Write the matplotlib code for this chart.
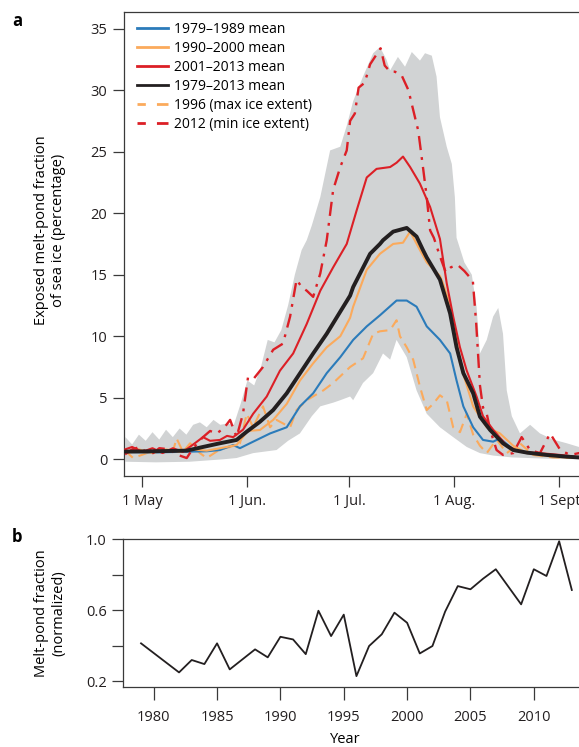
import numpy as np
import matplotlib
matplotlib.use('Agg')
import matplotlib.pyplot as plt

plt.rcParams['font.family'] = ['Open Sans', 'DejaVu Sans']

# panel a: day of year -> exposed melt-pond fraction (%)
band_up_day = [116, 118, 120, 122, 124, 126, 128, 130, 132, 134, 136, 138, 140, 142, 144, 146, 148,
               150, 152, 154, 156, 158, 160, 162, 164, 166, 168, 169.5, 171, 173.5, 176.4, 179.4,
               181.3, 183.2, 186.1, 189.1, 191.1, 193, 194.1, 196.4, 198.5, 200.5, 202.9, 204.4,
               206.4, 207.8, 208.8, 210.8, 212.3, 213.2, 213.7, 216, 218.2, 219.6, 220.6, 222.6,
               224.5, 226.0, 227.4, 228.5, 230.0, 232.4, 235.4, 238.3, 242.2, 246.2, 249.8, 256]
band_up_val = [1.8, 1.2, 2.0, 1.5, 2.2, 1.6, 2.4, 1.8, 2.5, 2.0, 2.8, 3.0, 2.6, 3.2, 2.8, 2.9, 2.8,
               4.5, 6.4, 6.0, 7.5, 9.7, 9.5, 10.5, 12.5, 15.0, 17.0, 17.8, 19.0, 21.3, 25.1, 25.4,
               27.1, 29.1, 31.1, 33.0, 33.5, 32.5, 31.6, 32.7, 31.9, 33.1, 32.4, 33.0,
               32.8, 31.1, 27.8, 25.4, 24.0, 21.3, 18.0, 16.0, 15.0, 12.4, 8.6, 9.7,
               11.6, 12.3, 10.2, 5.6, 3.5, 2.1, 2.8, 2.1, 1.6, 1.3, 1.0, 0.9]
band_lo_day = [116, 125, 135, 140, 145, 148.8, 153.7, 160.6, 164, 167.5, 171, 173.5, 177.3, 179.4,
               182.3, 183.2, 186.1, 189.1, 192.0, 194.1, 196.0, 199.0, 201.9, 204.9, 208.8, 212.7,
               216.7, 220.6, 224.5, 230, 240, 249.8, 256]
band_lo_val = [-0.2, -0.25, -0.2, -0.1, 0.0, 0.1, 0.5, 0.75, 1.5, 2.1, 3.5, 4.3, 4.6, 4.8,
               5.1, 4.8, 6.2, 7.0, 8.6, 8.1, 9.7, 8.3, 5.6, 3.7, 2.6, 1.8,
               1.0, 0.5, 0.3, 0.15, 0.05, 0.0, 0.0]

mean_all_day = [115.9, 124.2, 134.1, 138.9, 143.9, 148.8, 151.8, 155.7, 159.6, 163.6, 167.5, 171.4,
                175.4, 179.4, 182.3, 183.2, 188.2, 191.1, 192.0, 195.0, 199.0, 201.9, 203.8, 204.9,
                208.8, 211.8, 213.7, 215.7, 218.6, 220.6, 223.6, 227.4, 230.4, 234.5, 240.3, 246.2,
                249.8, 256]
mean_all_val = [0.62, 0.65, 0.7, 1.0, 1.3, 1.57, 2.24, 3.05, 4.0, 5.36, 6.98, 8.6,
                10.2, 12.0, 13.3, 14.0, 16.7, 17.5, 17.8, 18.5, 18.8, 18.1, 17.0, 16.4,
                14.6, 11.85, 9.1, 7.0, 5.36, 3.46, 2.38, 1.3, 0.75, 0.54, 0.35, 0.21,
                0.15, 0.12]

mean_7989_day = [115.9, 124, 132, 140, 143.9, 147.8, 149.8, 153.7, 158.7, 163.6, 167.5, 171.4, 175.4,
                 179.4, 183.2, 187.2, 191.1, 196.0, 199.0, 201.9, 204.9, 208.8, 211.8, 213.7, 215.7,
                 218.6, 221.5, 224.5, 226.5, 230.4, 234.5, 242, 249.8, 256]
mean_7989_val = [0.6, 0.55, 0.6, 0.65, 0.75, 1.16, 0.9, 1.43, 2.1, 2.6, 4.3, 5.36, 7.0,
                 8.3, 9.7, 10.8, 11.7, 12.9, 12.9, 12.4, 10.8, 9.7, 8.6, 6.4, 4.3,
                 2.6, 1.57, 1.43, 1.7, 0.8, 0.5, 0.25, 0.15, 0.12]

mean_9000_day = [115.9, 120, 124, 128, 132, 136, 140, 144, 148.8, 150.7, 152, 155.7, 159.6, 163.6,
                 167.5, 171.4, 175.4, 179.4, 182.3, 183.2, 187.2, 191.1, 195.0, 197.9, 200.0, 202.9,
                 204.9, 208.8, 209.7, 211.8, 213.7, 214.7, 218.6, 222.6, 226.5, 230.4, 234.5, 242.2,
                 249.8, 256]
mean_9000_val = [0.6, 0.8, 0.5, 0.8, 0.6, 0.8, 0.7, 0.9, 1.16, 1.8, 2.3, 2.38, 3.2, 4.5,
                 6.4, 7.8, 9.1, 10.0, 11.5, 12.4, 15.4, 16.7, 17.5, 17.6, 18.5, 17.0,
                 16.0, 14.9, 14.3, 12.5, 9.8, 7.8, 4.3, 2.6, 2.1, 1.1, 0.5, 0.2,
                 0.1, 0.1]

mean_0113_day = [115.9, 118, 121, 124, 127, 130, 133, 136, 138.9, 141, 143.9, 146, 147.8, 150.7,
                 153.7, 157.7, 161.6, 165.5, 169.5, 173.5, 177.3, 181.3, 184.2, 187.2, 190.1, 194.1,
                 196.0, 197.9, 200.0, 202.9, 205.9, 208.8, 210.8, 212.7, 214.7, 216.7, 219.6, 221.5,
                 224.5, 228.5, 232.4, 238.3, 246.2, 249.8, 256]
mean_0113_val = [0.8, 1.0, 0.6, 0.9, 0.5, 0.9, 0.6, 1.2, 1.8, 1.5, 1.57, 1.9, 1.8, 2.4,
                 3.7, 5.1, 7.2, 8.6, 11.0, 13.7, 15.6, 17.5, 20.2, 22.9, 23.6, 23.75,
                 24.1, 24.6, 23.75, 22.4, 20.5, 17.9, 14.3, 11.6, 9.1, 7.2, 5.1, 3.5,
                 2.4, 1.1, 0.6, 0.5, 0.3, 0.15, 0.12]

y1996_day = [115.9, 118.3, 122.3, 126, 130.1, 131.1, 133.0, 135.1, 138, 140.0, 143.9, 146.9, 149.8,
             151.8, 153.7, 156.6, 158.7, 160.6, 164.6, 166.5, 169.5, 174.4, 177.3, 182.3, 186.1,
             189.1, 191.1, 194.1, 196.0, 197, 199.0, 200.9, 202.9, 204.9, 206.8, 208.8, 210.8,
             212.7, 214.7, 216.7, 218.6, 220.6, 222.6, 225.5, 228.5, 232.4, 236.3, 242.2, 249.8, 256]
y1996_val = [0.7, 0.1, 0.5, 0.8, 0.7, 1.7, 0.6, 1.3, 0.5, 0.1, 0.8, 1.0, 1.3,
             3.7, 2.6, 4.3, 2.6, 3.2, 2.6, 4.0, 4.8, 5.6, 6.2, 7.5, 8.2,
             10.2, 10.4, 10.5, 11.3, 10.0, 9.1, 8.1, 5.9, 4.0, 4.5, 5.2, 4.8,
             2.6, 2.2, 3.7, 2.0, 1.1, 0.5, 1.6, 0.5, 1.3, 0.35, 0.15, 0.1, 0.1]

y2012_day = [115.9, 118, 120.3, 122, 124.2, 126, 129.2, 131, 134.1, 136, 138.9, 141, 142.9, 145,
             146.9, 148.8, 150.7, 152.2, 154, 156.6, 159.6, 162.5, 164.6, 166.5, 168, 169.5, 171.4,
             173.5, 175.4, 177.3, 179.4, 181.3, 182.3, 183.7, 184.8, 186.6, 188.2, 190.1, 191.3,
             192.5, 194.1, 195.5, 197.5, 199.5, 200.9, 202.4, 203.9, 204.9, 205.9, 207, 208.8,
             210.5, 212, 214, 216, 218.5, 219.5, 220.6, 221.5, 222.6, 223.6, 225.5, 227.4, 230.4,
             232.9, 235.4, 238.3, 241.3, 244.3, 247.2, 249.8, 256]
y2012_val = [0.4, 0.8, 1.0, 0.6, 0.5, 0.9, 0.8, 0.4, 0.1, 0.9, 1.8, 2.3, 2.1, 2.5,
             3.2, 1.8, 3.7, 6.7, 6.6, 7.5, 8.9, 9.4, 11.6, 14.6, 14.0, 13.7, 13.2,
             15.1, 17.8, 21.9, 23.75, 25.1, 27.5, 28.1, 30.2, 30.6, 32.1, 32.9, 33.4,
             32.0, 31.5, 31.5, 31.2, 30.0, 28.4, 26.7, 23.5, 21.3, 18.6, 18.0, 16.5,
             15.2, 15.6, 15.8, 15.3, 14.5, 11.0, 6.0, 4.2, 3.7, 2.4, 0.75, 0.35, 0.5,
             1.8, 0.75, 0.5, 2.1, 0.75, 0.35, 0.5, 0.4]

month_days = [121, 152, 182, 213, 244]
month_labels = ['1 May', '1 Jun.', '1 Jul.', '1 Aug.', '1 Sept']

# panel b: normalized melt-pond fraction per year
years = [1979, 1982, 1983, 1984, 1985, 1986, 1988, 1989, 1990, 1991, 1992, 1993, 1994, 1995,
         1996, 1997, 1998, 1999, 2000, 2001, 2002, 2003, 2004, 2005, 2006, 2007, 2009, 2010,
         2011, 2012, 2013]
pond_norm = [0.413, 0.249, 0.319, 0.296, 0.413, 0.266, 0.379, 0.334, 0.45, 0.435, 0.352, 0.597,
             0.454, 0.575, 0.228, 0.398, 0.464, 0.586, 0.529, 0.356, 0.398, 0.592, 0.736, 0.718,
             0.778, 0.831, 0.633, 0.831, 0.793, 0.989, 0.714]

BLUE = '#2b7bba'
ORANGE = '#fbaa5c'
RED = '#dc1f26'
BLACK = '#231f20'
GREY = '#d1d3d4'
AXC = '#3a3a3a'

W, H = 579, 747
fig = plt.figure(figsize=(W / 100, H / 100), dpi=100)


def box(l, t, r, b):
    return [l / W, 1 - b / H, (r - l) / W, (b - t) / H]


def style(ax):
    ax.spines['right'].set_visible(False)
    for s in ['left', 'top', 'bottom']:
        ax.spines[s].set_color(AXC)
        ax.spines[s].set_linewidth(0.9)
    ax.tick_params(direction='out', length=8, width=0.9, color=AXC,
                   labelsize=10.5, labelcolor='#231f20')


# ---- panel a
ax = fig.add_axes(box(124, 12, 596.4, 476))
style(ax)
ax.fill(np.r_[band_up_day, band_lo_day[::-1]], np.r_[band_up_val, band_lo_val[::-1]],
        color=GREY, lw=0, zorder=1)
ax.plot(y1996_day, y1996_val, color=ORANGE, lw=1.5, ls=(0, (5, 3)), zorder=2)
ax.plot(mean_7989_day, mean_7989_val, color=BLUE, lw=1.5, zorder=3)
ax.plot(mean_9000_day, mean_9000_val, color=ORANGE, lw=1.5, zorder=3)
ax.plot(y2012_day, y2012_val, color=RED, lw=1.7, ls=(0, (6, 3, 1.2, 3)), zorder=4)
ax.plot(mean_0113_day, mean_0113_val, color=RED, lw=1.5, zorder=5)
ax.plot(mean_all_day, mean_all_val, color=BLACK, lw=2.8, zorder=6)

h = [plt.Line2D([], [], color=BLUE, lw=2),
     plt.Line2D([], [], color=ORANGE, lw=2),
     plt.Line2D([], [], color=RED, lw=2),
     plt.Line2D([], [], color=BLACK, lw=2),
     plt.Line2D([], [], color=ORANGE, lw=2, ls=(2, (5, 4))),
     plt.Line2D([], [], color=RED, lw=2, ls=(2, (5, 4)))]
labels = ['1979\u20131989 mean', '1990\u20132000 mean', '2001\u20132013 mean',
          '1979\u20132013 mean', '1996 (max ice extent)', '2012 (min ice extent)']
ax.legend(h, labels, loc='upper left', bbox_to_anchor=(0.028, 0.978), frameon=False,
          fontsize=10, handlelength=2.2, handletextpad=0.45, labelspacing=0.28,
          borderpad=0, borderaxespad=0)

ax.set_xlim(115.6, 254.95)
ax.set_ylim(-1.36, 36.35)
ax.set_yticks(range(0, 36, 5))
ax.set_xticks(month_days)
ax.set_xticklabels(month_labels)
ax.tick_params(axis='x', pad=5)
ax.tick_params(axis='y', pad=4)

fig.text(50 / W, 1 - 230 / H, 'Exposed melt-pond fraction\nof sea ice (percentage)',
         rotation=90, ha='center', va='center', multialignment='center', fontsize=10.5)
fig.text(12 / W, 1 - 12 / H, 'a', fontsize=12, fontweight='bold', va='top')

# ---- panel b
bx = fig.add_axes(box(123.3, 539.3, 596.4, 687.3))
style(bx)
bx.plot(years, pond_norm, color=BLACK, lw=1.3)
bx.set_xlim(1977.6, 2014.94)
bx.set_ylim(0.165, 1.0)
bx.set_yticks([0.2, 0.4, 0.6, 0.8, 1.0])
bx.set_yticklabels(['0.2', '', '0.6', '', '1.0'])
bx.set_xticks(range(1980, 2015, 5))
bx.tick_params(axis='x', length=9, pad=7)
bx.tick_params(axis='y', pad=4)
bx.set_xlabel('Year', fontsize=10.5)
bx.xaxis.set_label_coords((345 - 123.3) / 473.1, -0.3)

fig.text(50 / W, 1 - 613 / H, 'Melt-pond fraction\n(normalized)',
         rotation=90, ha='center', va='center', multialignment='center', fontsize=10.5)
fig.text(12 / W, 1 - 528 / H, 'b', fontsize=12, fontweight='bold', va='top')

fig.savefig('out.png', dpi=100)
